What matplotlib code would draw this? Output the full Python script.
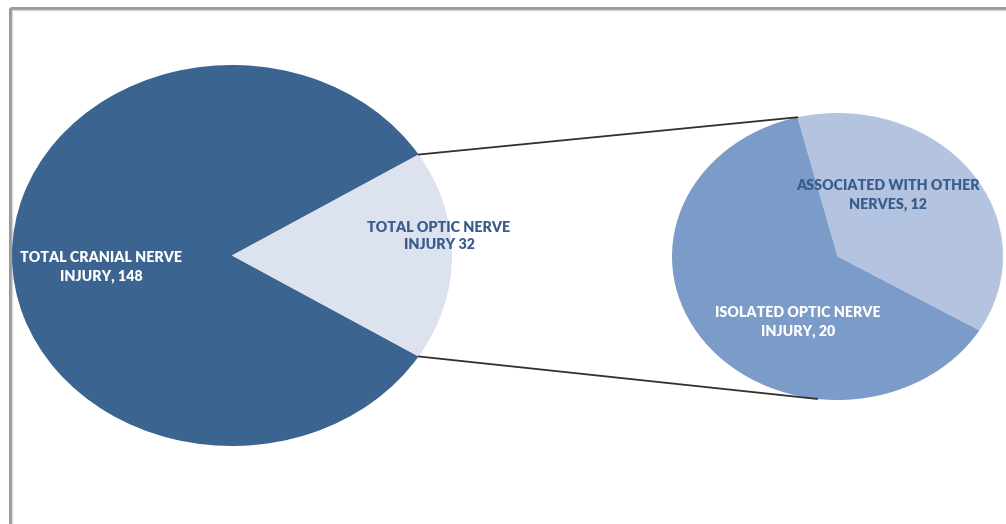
import numpy as np
import matplotlib.pyplot as plt
from matplotlib.patches import ConnectionPatch, Rectangle

# main pie: all cranial nerve injuries vs optic nerve
main_labels = ['TOTAL CRANIAL NERVE\nINJURY, 148', 'TOTAL OPTIC NERVE\nINJURY 32']
main_values = [148, 32]
main_colors = ['#3b6491', '#dce3ef']

# secondary pie: breakdown of the optic nerve injuries
sub_labels = ['ASSOCIATED WITH OTHER\nNERVES, 12', 'ISOLATED OPTIC NERVE\nINJURY, 20']
sub_values = [12, 20]
sub_colors = ['#b3c3e0', '#7b9bc8']

W, H = 1006, 524
fig = plt.figure(figsize=(W / 100, H / 100), dpi=100)
plt.rcParams['font.family'] = ['Lato', 'DejaVu Sans']


def px_axes(x0, y0, x1, y1):
    # axes placed by pixel box (top-left origin)
    ax = fig.add_axes([x0 / W, 1 - y1 / H, (x1 - x0) / W, (y1 - y0) / H])
    return ax


# frame around the chart area
frame = fig.add_axes([0, 0, 1, 1])
frame.set_xlim(0, W)
frame.set_ylim(H, 0)
frame.axis('off')
frame.add_patch(Rectangle((10, 8), W + 20, H + 20, fill=False,
                          edgecolor='#9a9a9a', linewidth=2.2))
frame.add_patch(Rectangle((12, 10), W + 20, H + 20, fill=False,
                          edgecolor='#d8d8d8', linewidth=1))

# left pie, stretched into an ellipse
ax1 = px_axes(12, 65, 452, 446)
optic_half = 360 * main_values[1] / sum(main_values) / 2
w1, _ = ax1.pie(main_values, colors=main_colors, startangle=optic_half,
                radius=1, wedgeprops=dict(linewidth=0))
ax1.set_aspect('auto')
ax1.set_xlim(-1, 1)
ax1.set_ylim(-1, 1)
ax1.axis('off')

# right pie
ax2 = px_axes(672, 113, 1003, 400)
sub_start = -31
w2, _ = ax2.pie(sub_values, colors=sub_colors, startangle=sub_start,
                radius=1, wedgeprops=dict(linewidth=0))
ax2.set_aspect('auto')
ax2.set_xlim(-1, 1)
ax2.set_ylim(-1, 1)
ax2.axis('off')

# connector lines from the optic slice to the breakdown pie
top_a = np.deg2rad(w1[1].theta2)
bot_a = np.deg2rad(w1[1].theta1)
top_b = np.deg2rad(w2[0].theta2)
bot_b = np.deg2rad(-97)
for a, b in [(top_a, top_b), (bot_a, bot_b)]:
    con = ConnectionPatch(xyA=(np.cos(a), np.sin(a)), coordsA=ax1.transData,
                          xyB=(np.cos(b), np.sin(b)), coordsB=ax2.transData,
                          color='#303030', linewidth=1.3)
    fig.add_artist(con)

# slice labels on an overlay so they sit above the wedges
top = fig.add_axes([0, 0, 1, 1])
top.set_xlim(0, W)
top.set_ylim(H, 0)
top.axis('off')
txt = dict(fontsize=10.3, fontweight='heavy', ha='center', va='center',
           linespacing=1.45)
top.text(101, 267, main_labels[0], color='white', **txt)
top.text(439, 236, main_labels[1], color='#3a5d8c', **txt)
top.text(888, 195, sub_labels[0], color='#3a5d8c', **txt)
top.text(798, 322, sub_labels[1], color='white', **txt)

fig.savefig('out.png', dpi=100)
